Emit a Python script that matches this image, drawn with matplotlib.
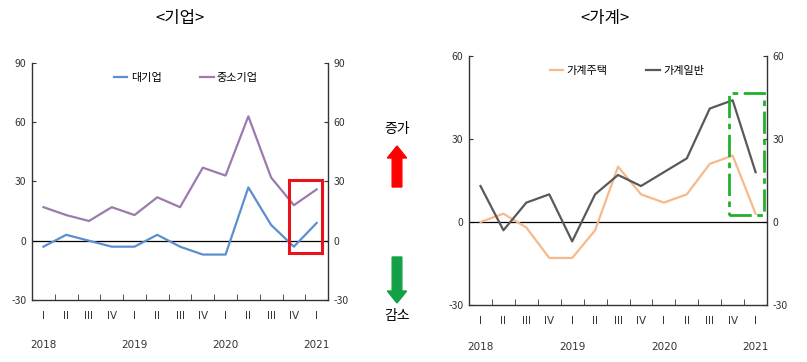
import matplotlib
matplotlib.use("Agg")
import matplotlib.pyplot as plt
from matplotlib.patches import Rectangle, FancyArrow

plt.rcParams['font.family'] = ['Noto Sans CJK KR', 'DejaVu Sans']
plt.rcParams['axes.unicode_minus'] = False

quarters = ["I", "II", "III", "IV", "I", "II", "III", "IV", "I", "II", "III", "IV", "I"]
years = ["2018", "2019", "2020", "2021"]
year_pos = [0, 4, 8, 12]

# 기업
large_firm = [-3, 3, 0, -3, -3, 3, -3, -7, -7, 27, 8, -3, 9]
sme = [17, 13, 10, 17, 13, 22, 17, 37, 33, 63, 32, 18, 26]
# 가계
hh_housing = [0, 3, -2, -13, -13, -3, 20, 10, 7, 10, 21, 24, 3]
hh_general = [13, -3, 7, 10, -7, 10, 17, 13, 18, 23, 41, 44, 18]

fig = plt.figure(figsize=(8.07, 3.62), dpi=100)


def setup(ax, ylim, yticks, year_y):
    n = len(quarters)
    x = list(range(n))
    ax.set_xlim(-0.5, n - 0.5)
    ax.set_ylim(*ylim)
    ax.set_yticks(yticks)
    ax.tick_params(axis='y', direction='in', length=3, labelsize=7.5,
                   labelright=True, right=True, colors='#333333', pad=4)
    ax.set_xticks(x)
    ax.set_xticklabels(quarters, fontsize=7.5, color='#333333', family='DejaVu Sans')
    ax.tick_params(axis='x', length=0, pad=8)
    ax.set_xticks([i + 0.5 for i in range(n - 1)], minor=True)
    ax.tick_params(axis='x', which='minor', direction='in', length=4, color='#333333')
    ax.spines['top'].set_visible(False)
    for s in ('left', 'right', 'bottom'):
        ax.spines[s].set_color('#333333')
        ax.spines[s].set_linewidth(1.0)
    ax.axhline(0, color='black', lw=0.9)
    for yr, p in zip(years, year_pos):
        ax.text(p, year_y, yr, transform=ax.get_xaxis_transform(), ha='center',
                va='center', fontsize=7.5, color='#333333', family='DejaVu Sans')
    return x


# left panel
ax1 = fig.add_axes([0.0397, 0.1713, 0.3668, 0.6547])
x = setup(ax1, (-30, 90), [-30, 0, 30, 60, 90], -0.19)
ax1.plot(x, large_firm, color='#5B8FD0', lw=1.6, label='대기업')
ax1.plot(x, sme, color='#9B7BAE', lw=1.6, label='중소기업')
ax1.legend(loc='upper center', bbox_to_anchor=(0.52, 1.0), ncol=2, frameon=False,
           fontsize=8, handlelength=1.2, handletextpad=0.3, columnspacing=3.5)
ax1.add_patch(Rectangle((10.8, -6), 1.42, 37, fill=False, edgecolor='#E8141B', lw=2.2, zorder=5))
fig.text(180 / 807, 1 - 19 / 362, '<기업>', ha='center', va='center', fontsize=12)

# right panel
ax2 = fig.add_axes([0.5812, 0.1575, 0.3693, 0.6878])
x = setup(ax2, (-30, 60), [-30, 0, 30, 60], -0.17)
ax2.plot(x, hh_housing, color='#F7B98A', lw=1.6, label='가계주택')
ax2.plot(x, hh_general, color='#595959', lw=1.6, label='가계일반')
ax2.legend(loc='upper center', bbox_to_anchor=(0.53, 1.0), ncol=2, frameon=False,
           fontsize=8, handlelength=1.2, handletextpad=0.3, columnspacing=3.5)
ax2.add_patch(Rectangle((10.85, 2.5), 1.5, 44, fill=False, edgecolor='#22B02A', lw=2.0,
                        linestyle=(0, (8, 2, 2, 2)), zorder=5))
fig.text(605 / 807, 1 - 19 / 362, '<가계>', ha='center', va='center', fontsize=12)

# arrows in between
fig.text(397 / 807, 1 - 129 / 362, '증가', ha='center', va='center', fontsize=10)
fig.patches.append(FancyArrow(397 / 807, 1 - 187 / 362, 0, 41 / 362, width=0.012,
                              head_width=0.024, head_length=12 / 362, length_includes_head=True,
                              color='#FF0000', transform=fig.transFigure, figure=fig))
fig.patches.append(FancyArrow(397 / 807, 1 - 257 / 362, 0, -46 / 362, width=0.012,
                              head_width=0.024, head_length=12 / 362, length_includes_head=True,
                              color='#13A046', transform=fig.transFigure, figure=fig))
fig.text(397 / 807, 1 - 316 / 362, '감소', ha='center', va='center', fontsize=10)

fig.savefig('out.png', dpi=100)
